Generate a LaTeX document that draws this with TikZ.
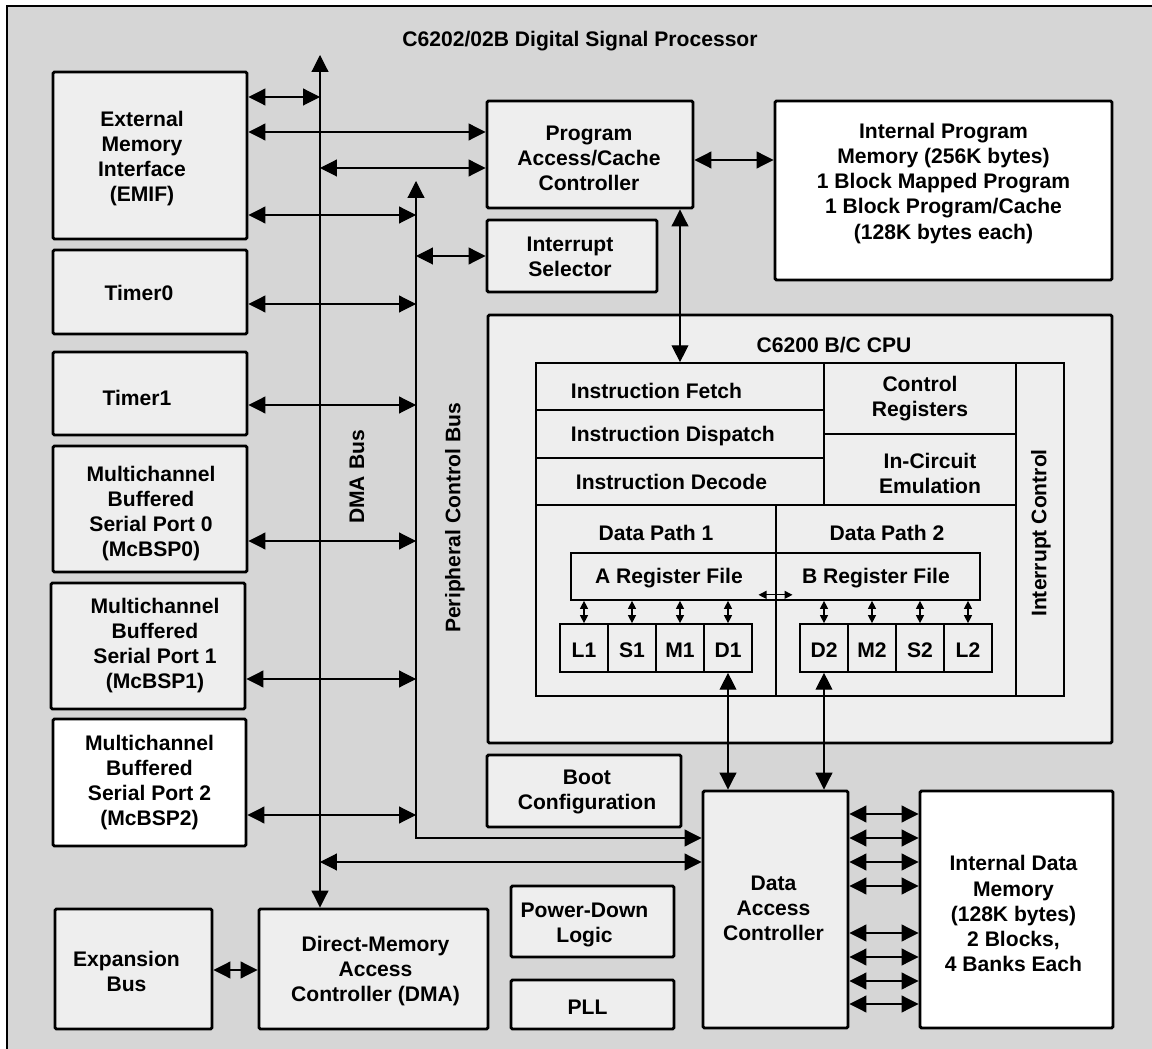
\documentclass[tikz,border=0pt]{standalone}
\usepackage{fontspec}
\setmainfont{Liberation Sans}
\usepackage{tikz}
\usetikzlibrary{arrows.meta}
\usetikzlibrary{fit}
\definecolor{panelgray}{RGB}{214,214,214}
\definecolor{boxgray}{RGB}{238,238,238}
\tikzset{
  blk/.style={draw, line width=2.1pt, rounded corners=1pt, fill=boxgray, inner sep=0pt},
  wblk/.style={blk, fill=white},
  cell/.style={draw, line width=1.2pt, inner sep=0pt},
  biarrow/.style={line width=0.8pt, {Triangle[length=0.42cm,width=0.42cm]}-{Triangle[length=0.42cm,width=0.42cm]}},
  smallarrow/.style={line width=0.8pt, {Triangle[length=0.2cm,width=0.2cm]}-{Triangle[length=0.2cm,width=0.2cm]}},
}
\begin{document}
\begin{tikzpicture}[x=0.025cm, y=-0.025cm,
    every node/.style={font=\fontsize{15}{17.8}\selectfont\bfseries, align=center}]
  \useasboundingbox (0,0) rectangle (1152,1049);
  \filldraw[fill=panelgray, line width=0.8pt] (7,6) rectangle (1170,1070);
  \node (title) at (580,41) {C6202/02B Digital Signal Processor};

  % peripherals on the left
  \node[blk, fit={(53,72) (247,239)}, label={[shift={(-8,3)}]center:External\\Memory\\Interface\\(EMIF)}] (emif) {};
  \node[blk, fit={(53,250) (247,334)}, label={[shift={(-11,1)}]center:Timer0}] (timer0) {};
  \node[blk, fit={(53,352) (247,435)}, label={[shift={(-13,4)}]center:Timer1}] (timer1) {};
  \node[blk, fit={(53,446) (247,572)}, label={[shift={(1,5)}]center:Multichannel\\Buffered\\Serial Port 0\\(McBSP0)}] (mcbsp0) {};
  \node[blk, fit={(51,583) (245,709)}, label={[shift={(7,0)}]center:Multichannel\\Buffered\\Serial Port 1\\(McBSP1)}] (mcbsp1) {};
  \node[wblk, fit={(53,719) (246,846)}, label={center:Multichannel\\Buffered\\Serial Port 2\\(McBSP2)}] (mcbsp2) {};
  \node[blk, fit={(55,909) (212,1029)}, label={[shift={(-7,2)}]center:Expansion\\Bus}] (expbus) {};
  \node[blk, fit={(259,909) (488,1029)}, label={[shift={(2,2)}]center:Direct-Memory\\Access\\Controller (DMA)}] (dma) {};

  % middle and right
  \node[blk, fit={(487,101) (693,208)}, label={[shift={(-1,4)}]center:Program\\Access/Cache\\Controller}] (pacc) {};
  \node[blk, fit={(487,220) (657,292)}, label={[shift={(-2,1)}]center:Interrupt\\Selector}] (intsel) {};
  \node[wblk, fit={(775,101) (1112,280)}, label={[shift={(0,-7)}]center:Internal Program\\Memory (256K bytes)\\1 Block Mapped Program\\1 Block Program/Cache\\(128K bytes each)}] (ipm) {};
  \node[blk, fit={(487,755) (681,827)}, label={[shift={(3,1)}]center:Boot\\Configuration}] (boot) {};
  \node[blk, fit={(511,886) (674,957)}, label={[shift={(-8,3)}]center:Power-Down\\Logic}] (pdl) {};
  \node[blk, fit={(511,980) (674,1029)}, label={[shift={(-5,3)}]center:PLL}] (pll) {};
  \node[blk, fit={(703,791) (848,1028)}, label={[shift={(-2,-1)}]center:Data\\Access\\Controller}] (dac) {};
  \node[wblk, fit={(920,791) (1113,1028)}, label={[shift={(-3,4)}]center:Internal Data\\Memory\\(128K bytes)\\2 Blocks,\\4 Banks Each}] (idm) {};

  % cpu
  \node[blk, fit={(488,315) (1112,743)}] (cpu) {};
  \node (cpulbl) at (834,345) {C6200 B/C CPU};
  \node[cell, fit={(536,363) (824,410)}] (fetch) {};
  \node[cell, fit={(536,410) (824,458)}] (dispatch) {};
  \node[cell, fit={(536,458) (824,505)}] (decode) {};
  \node[anchor=west] (fetchlbl) at (566,391) {Instruction Fetch};
  \node[anchor=west] (dispatchlbl) at (566,436) {Instruction Dispatch};
  \node[anchor=west] (decodelbl) at (571,482) {Instruction Decode};
  \node[cell, fit={(824,363) (1016,434)}, label={center:Control\\Registers}] (ctrlreg) {};
  \node[cell, fit={(824,434) (1016,505)}, label={[shift={(10,4)}]center:In-Circuit\\Emulation}] (ice) {};
  \node[cell, fit={(1016,363) (1064,696)}] (intctl) {};
  \node[rotate=90] (intctllbl) at (1041,533) {Interrupt Control};
  \node[cell, fit={(536,505) (776,696)}] (dp1) {};
  \node[cell, fit={(776,505) (1016,696)}] (dp2) {};
  \node (dp1lbl) at (656,533) {Data Path 1};
  \node (dp2lbl) at (887,533) {Data Path 2};
  \node[cell, fit={(571,553) (980,600)}] (rf) {};
  \node (rfa) at (669,578) {A Register File};
  \node (rfb) at (876,578) {B Register File};
  \foreach \name/\lbl [count=\i from 0] in {l1/L1,s1/S1,m1/M1,d1/D1}
    \node[cell, fit={(560+48*\i,624) (608+48*\i,672)}, label={[shift={(0,2)}]center:\lbl}] (\name) {};
  \foreach \name/\lbl [count=\i from 0] in {d2/D2,m2/M2,s2/S2,l2/L2}
    \node[cell, fit={(800+48*\i,624) (848+48*\i,672)}, label={[shift={(0,2)}]center:\lbl}] (\name) {};

  % buses
  \coordinate (dmatop) at (320,55);
  \coordinate (pcbtop) at (416,181);
  \coordinate (pcbbend) at (416,838);
  \draw[biarrow] (dmatop) -- (dmatop |- dma.north);
  \draw[biarrow] (pcbtop) -- (pcbbend) -- (dac.west |- pcbbend);
  \node[rotate=90] (dmabuslbl) at (357,477) {DMA Bus};
  \node[rotate=90] (pcblbl) at (455,518) {Peripheral Control Bus};

  \draw[biarrow] (emif.east |- 0,97) -- (dmatop |- 0,97);
  \draw[biarrow] (emif.east |- 0,132) -- (pacc.west |- 0,132);
  \draw[biarrow] (dmatop |- 0,168) -- (pacc.west |- 0,168);
  \draw[biarrow] (emif.east |- 0,215) -- (pcbtop |- 0,215);
  \draw[biarrow] (pcbtop |- 0,256) -- (intsel.west |- 0,256);
  \foreach \src/\yy in {timer0/304,timer1/405,mcbsp0/541,mcbsp1/679,mcbsp2/815}
    \draw[biarrow] (\src.east |- 0,\yy) -- (pcbtop |- 0,\yy);
  \draw[biarrow] (dmatop |- 0,862) -- (dac.west |- 0,862);
  \draw[biarrow] (pacc.east |- 0,160) -- (ipm.west |- 0,160);
  \draw[biarrow] (expbus.east |- 0,970) -- (dma.west |- 0,970);
  \draw[biarrow] (pacc.south -| 680,0) -- (fetch.north -| 680,0);
  \draw[biarrow] (d1.south) -- (dac.north -| d1.south);
  \draw[biarrow] (d2.south) -- (dac.north -| d2.south);
  \foreach \yy in {814,838,862,886,933,957,981,1004}
    \draw[biarrow] (dac.east |- 0,\yy) -- (idm.west |- 0,\yy);
  \foreach \xx in {584,632,680,728,824,872,920,968}
    \draw[smallarrow] (rf.south -| \xx,0) -- (l1.north -| \xx,0);
  \draw[smallarrow] ([shift={(-17,-6)}]rf.south) -- ([shift={(17,-6)}]rf.south);
\end{tikzpicture}
\end{document}
